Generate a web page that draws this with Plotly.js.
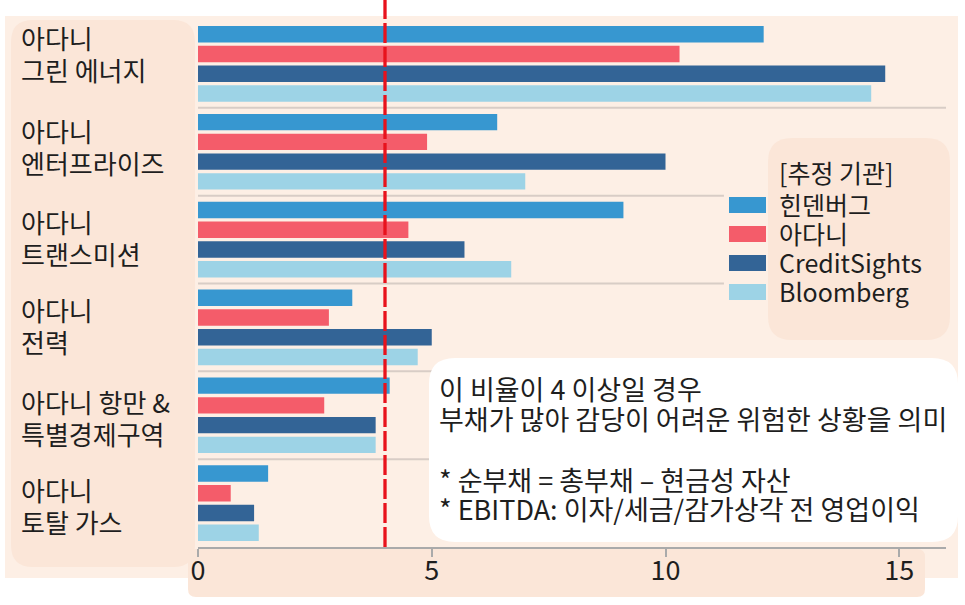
<!DOCTYPE html>
<html>
<head>
<meta charset="utf-8">
<script src="https://cdn.plot.ly/plotly-3.0.1.min.js"></script>
<style>
  html, body { margin: 0; padding: 0; background: #ffffff; }
  #chart { width: 965px; height: 605px; }
</style>
</head>
<body>
<div id="chart"></div>
<script>
// ---- data ----
const categories = [
  "아다니 그린 에너지",
  "아다니 엔터프라이즈",
  "아다니 트랜스미션",
  "아다니 전력",
  "아다니 항만 & 특별경제구역",
  "아다니 토탈 가스"
];
const categoryLabels = [
  "아다니<br>그린 에너지",
  "아다니<br>엔터프라이즈",
  "아다니<br>트랜스미션",
  "아다니<br>전력",
  "아다니 항만 &<br>특별경제구역",
  "아다니<br>토탈 가스"
];
const seriesNames = ["힌덴버그", "아다니", "CreditSights", "Bloomberg"];
const hindenburg   = [12.1, 6.4, 9.1, 3.3, 4.1, 1.5];
const adani        = [10.3, 4.9, 4.5, 2.8, 2.7, 0.7];
const creditSights = [14.7, 10.0, 5.7, 5.0, 3.8, 1.2];
const bloomberg    = [14.4, 7.0, 6.7, 4.7, 3.8, 1.3];
const seriesColors = ["#3797d0", "#f45c6a", "#336496", "#9dd3e6"];
const xTickValues = [0, 5, 10, 15];
const thresholdValue = 4;
const legendTitle = "[추정 기관]";
const noteLines = [
  "이 비율이 4 이상일 경우",
  "부채가 많아 감당이 어려운 위험한 상황을 의미",
  "* 순부채 = 총부채 – 현금성 자산",
  "* EBITDA: 이자/세금/감가상각 전 영업이익"
];

// ---- layout helpers (pixel -> paper) ----
const W = 965, H = 605;
const M = {l: 198, r: 19, t: 20, b: 58};
const PW = W - M.l - M.r, PH = H - M.t - M.b;
const px = x => (x - M.l) / PW;
const py = y => (H - M.b - y) / PH;
function roundRect(x0, y0, x1, y1, r) {
  const X = px, Y = py;
  return "M" + X(x0 + r) + "," + Y(y0) +
    " L" + X(x1 - r) + "," + Y(y0) +
    " Q" + X(x1) + "," + Y(y0) + " " + X(x1) + "," + Y(y0 + r) +
    " L" + X(x1) + "," + Y(y1 - r) +
    " Q" + X(x1) + "," + Y(y1) + " " + X(x1 - r) + "," + Y(y1) +
    " L" + X(x0 + r) + "," + Y(y1) +
    " Q" + X(x0) + "," + Y(y1) + " " + X(x0) + "," + Y(y1 - r) +
    " L" + X(x0) + "," + Y(y0 + r) +
    " Q" + X(x0) + "," + Y(y0) + " " + X(x0 + r) + "," + Y(y0) + " Z";
}

const FONT = '"Noto Sans CJK KR", "Noto Sans", sans-serif';
const TEXT = "#1e1e1e";
const PEACH = "#fdefe5";
const PEACH2 = "#fbe6d8";

const allSeries = [hindenburg, adani, creditSights, bloomberg];
const traces = allSeries.map((vals, i) => ({
  type: "bar",
  orientation: "h",
  name: seriesNames[i],
  x: vals,
  y: categories,
  marker: {color: seriesColors[i]},
  showlegend: false,
  hoverinfo: "x+name"
}));

const shapes = [
  {type: "rect", xref: "paper", yref: "paper", x0: px(5), x1: px(958), y0: py(16), y1: py(578),
   fillcolor: PEACH, line: {width: 0}, layer: "below"},
  {type: "path", xref: "paper", yref: "paper", path: roundRect(11, 20, 195, 567, 22),
   fillcolor: PEACH2, line: {width: 0}, layer: "below"},
  {type: "path", xref: "paper", yref: "paper", path: roundRect(188, 549, 925, 597, 8),
   fillcolor: PEACH2, line: {width: 0}, layer: "below"},
  {type: "path", xref: "paper", yref: "paper", path: roundRect(768, 138, 950, 340, 24),
   fillcolor: PEACH2, line: {width: 0}, layer: "below"}
];
const sepEnds = [16, 11.25, 11.25, 16, 16];
for (let k = 0; k < categories.length - 1; k++) {
  shapes.push({type: "line", xref: "x", yref: "y", x0: 0, x1: sepEnds[k], y0: k + 0.5, y1: k + 0.5,
    line: {color: "#d8cdc6", width: 2}, layer: "below"});
}
shapes.push({type: "path", xref: "paper", yref: "paper", path: roundRect(429, 358, 958, 542, 26),
  fillcolor: "#ffffff", line: {width: 0}, layer: "above"});
shapes.push({type: "line", xref: "x", yref: "paper", x0: thresholdValue, x1: thresholdValue,
  y0: 0, y1: py(0), line: {color: "#e8121c", width: 3.3, dash: "20px,4px"}, layer: "above"});

// legend swatches (manual legend)
const legendRowY = [205, 234, 263, 292];
seriesColors.forEach((c, i) => {
  shapes.push({type: "rect", xref: "paper", yref: "paper",
    x0: px(729), x1: px(766), y0: py(legendRowY[i] - 8), y1: py(legendRowY[i] + 8),
    fillcolor: c, line: {width: 0}, layer: "above"});
});

const annotations = [];
// category labels, one annotation per line
const groupH = PH / categories.length;
const labelBlockCenters = [53.5, 146, 238, 325, 417, 506];
categoryLabels.forEach((t, i) => {
  const lines = t.split("<br>");
  const gc = M.t + (i + 0.5) * groupH;
  lines.forEach((ln, j) => {
    const ly = labelBlockCenters[i] + (j - (lines.length - 1) / 2) * 32;
    annotations.push({
      xref: "paper", yref: "y", x: px(19), y: categories[i], yshift: gc - ly,
      xanchor: "left", yanchor: "middle", text: ln, align: "left", showarrow: false,
      font: {family: FONT, size: 26, color: TEXT}
    });
  });
});
// note lines
const noteY = [388, 418, 479, 508];
noteLines.forEach((ln, i) => {
  annotations.push({
    xref: "paper", yref: "paper", x: px(437), y: py(noteY[i]), xanchor: "left", yanchor: "middle",
    text: ln, align: "left", showarrow: false, font: {family: FONT, size: 27, color: TEXT}
  });
});
// legend title + entries
annotations.push({
  xref: "paper", yref: "paper", x: px(777), y: py(172), xanchor: "left", yanchor: "middle",
  text: legendTitle, align: "left", showarrow: false, font: {family: FONT, size: 25, color: TEXT}
});
seriesNames.forEach((n, i) => {
  annotations.push({
    xref: "paper", yref: "paper", x: px(777), y: py(legendRowY[i] - 1), xanchor: "left", yanchor: "middle",
    text: n, align: "left", showarrow: false, font: {family: FONT, size: 25, color: TEXT}
  });
});

const layout = {
  width: W, height: H,
  margin: M,
  paper_bgcolor: "#ffffff",
  plot_bgcolor: "rgba(0,0,0,0)",
  barmode: "group",
  bargap: 0.1,
  bargroupgap: 0.17,
  font: {family: FONT, color: TEXT},
  showlegend: false,
  xaxis: {
    range: [0, 16], tickvals: xTickValues, ticktext: xTickValues.map(String),
    showgrid: false, zeroline: false,
    showline: true, linecolor: "#aaaaaa", linewidth: 2,
    ticks: "outside", ticklen: 8, tickwidth: 2, tickcolor: "#aaaaaa",
    ticklabelstandoff: -9,
    tickfont: {family: FONT, size: 27, color: TEXT},
    fixedrange: true
  },
  yaxis: {
    type: "category", autorange: "reversed",
    showticklabels: false, showgrid: false, zeroline: false, showline: false, ticks: "",
    fixedrange: true
  },
  shapes: shapes,
  annotations: annotations
};

Plotly.newPlot("chart", traces, layout, {displayModeBar: false, staticPlot: true});
</script>
</body>
</html>
